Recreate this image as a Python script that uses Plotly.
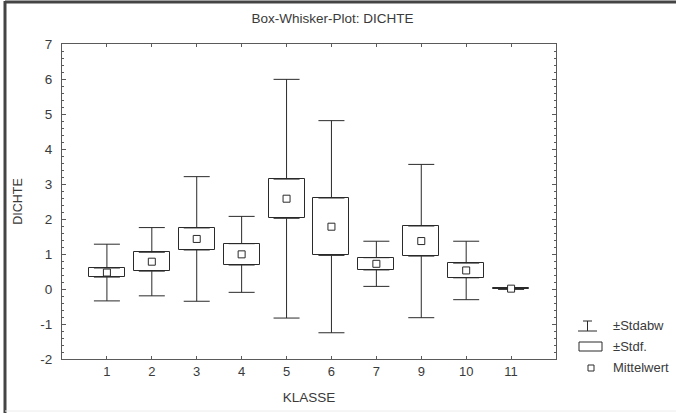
import plotly.graph_objects as go

# ---- data ----
classes = ["1", "2", "3", "4", "5", "6", "7", "9", "10", "11"]
mean = [0.47, 0.78, 1.43, 0.99, 2.58, 1.78, 0.72, 1.37, 0.53, 0.01]
se = [0.13, 0.27, 0.315, 0.305, 0.56, 0.82, 0.175, 0.43, 0.21, 0.005]
sd = [0.81, 0.975, 1.78, 1.085, 3.41, 3.03, 0.645, 2.19, 0.835, 0.02]
y_ticks = [-2, -1, 0, 1, 2, 3, 4, 5, 6, 7]
y_tick_labels = [str(v) for v in y_ticks]
legend_labels = ["±Stdabw", "±Stdf.", "Mittelwert"]

W, H = 676, 413
ML, MR, MT, MB = 62, 120, 44, 54
PW, PH = W - ML - MR, H - MT - MB

def px(x):
    return (x - ML) / PW

def py(y):
    return (H - MB - y) / PH

FONT = "Liberation Sans, Arial, sans-serif"
TXT = "#3a3a3a"
AX = "#5a5a5a"
MK = "#2a2a2a"

upper = [m + s for m, s in zip(mean, se)]
lower = [m - s for m, s in zip(mean, se)]
up_ext = [d - s for d, s in zip(sd, se)]
zeros = [0] * len(classes)

fig = go.Figure()

# boxes: mean +/- standard error
fig.add_trace(go.Bar(
    x=classes, base=lower, y=[2 * s for s in se], width=0.8,
    marker=dict(color="white", line=dict(color=MK, width=1)),
    showlegend=False, hoverinfo="skip"))

# whiskers: mean +/- standard deviation (drawn from box edges outwards)
fig.add_trace(go.Scatter(
    x=classes, y=upper, mode="markers", marker=dict(size=1, opacity=0),
    error_y=dict(type="data", symmetric=False, array=up_ext, arrayminus=zeros,
                 color=MK, thickness=1, width=13),
    showlegend=False, hoverinfo="skip"))
fig.add_trace(go.Scatter(
    x=classes, y=lower, mode="markers", marker=dict(size=1, opacity=0),
    error_y=dict(type="data", symmetric=False, array=zeros, arrayminus=up_ext,
                 color=MK, thickness=1, width=13),
    showlegend=False, hoverinfo="skip"))

# means
fig.add_trace(go.Scatter(
    x=classes, y=mean, mode="markers",
    marker=dict(symbol="square", size=7, color="white", line=dict(color=MK, width=1)),
    showlegend=False))

shapes = []
annotations = []

# window frame
shapes.append(dict(type="line", xref="paper", yref="paper", x0=px(5), x1=px(676), y0=py(2), y1=py(2),
                   line=dict(color="#444", width=3)))
shapes.append(dict(type="line", xref="paper", yref="paper", x0=px(5), x1=px(5), y0=py(1), y1=py(413),
                   line=dict(color="#444", width=3)))
shapes.append(dict(type="line", xref="paper", yref="paper", x0=px(5), x1=px(676), y0=py(411), y1=py(411),
                   line=dict(color="#ececec", width=1)))

# custom legend
lc = MK
shapes.append(dict(type="line", xref="paper", yref="paper", x0=px(583), x1=px(592), y0=py(321), y1=py(321), line=dict(color=lc, width=1)))
shapes.append(dict(type="line", xref="paper", yref="paper", x0=px(587.5), x1=px(587.5), y0=py(321), y1=py(331), line=dict(color=lc, width=1)))
shapes.append(dict(type="line", xref="paper", yref="paper", x0=px(578), x1=px(597), y0=py(331), y1=py(331), line=dict(color=lc, width=1)))
shapes.append(dict(type="rect", xref="paper", yref="paper", x0=px(579), x1=px(602), y0=py(342), y1=py(351),
                   line=dict(color=lc, width=1), fillcolor="white"))
shapes.append(dict(type="rect", xref="paper", yref="paper", x0=px(588), x1=px(594), y0=py(365), y1=py(371),
                   line=dict(color=lc, width=1), fillcolor="white"))

for lab, yy in zip(legend_labels, [325, 346, 368]):
    annotations.append(dict(text=lab, xref="paper", yref="paper", x=px(611), y=py(yy),
                            xanchor="left", yanchor="middle", showarrow=False,
                            font=dict(family=FONT, size=13, color=TXT)))

fig.update_layout(
    width=W, height=H,
    margin=dict(l=ML, r=MR, t=MT, b=MB),
    paper_bgcolor="white", plot_bgcolor="white",
    font=dict(family=FONT, size=13, color=TXT),
    title=dict(text="Box-Whisker-Plot: DICHTE", x=px(305), xanchor="center",
               y=1 - 18 / H, yanchor="middle", font=dict(family=FONT, size=13.5, color=TXT)),
    showlegend=False,
    shapes=shapes, annotations=annotations,
    bargap=0,
)

fig.update_xaxes(
    type="category", categoryorder="array", categoryarray=classes,
    range=[-1, len(classes)],
    showgrid=False, zeroline=False,
    showline=True, linecolor=AX, linewidth=1, mirror="ticks",
    ticks="inside", ticklen=3, tickcolor=AX,
    tickfont=dict(family=FONT, size=13, color=TXT),
    title=dict(text="KLASSE", font=dict(family=FONT, size=13.5, color=TXT), standoff=14),
)
fig.update_yaxes(
    range=[-2, 7], tickmode="array", tickvals=y_ticks, ticktext=y_tick_labels,
    showgrid=False, zeroline=False,
    showline=True, linecolor=AX, linewidth=1, mirror="ticks",
    ticks="inside", ticklen=4, tickcolor=AX,
    minor=dict(dtick=0.2, ticks="inside", ticklen=2, tickcolor=AX, showgrid=False),
    tickfont=dict(family=FONT, size=13.5, color=TXT),
    ticklabelstandoff=6,
    title=dict(text="DICHTE", font=dict(family=FONT, size=12.5, color=TXT), standoff=14),
)

fig.write_html("out.html")
